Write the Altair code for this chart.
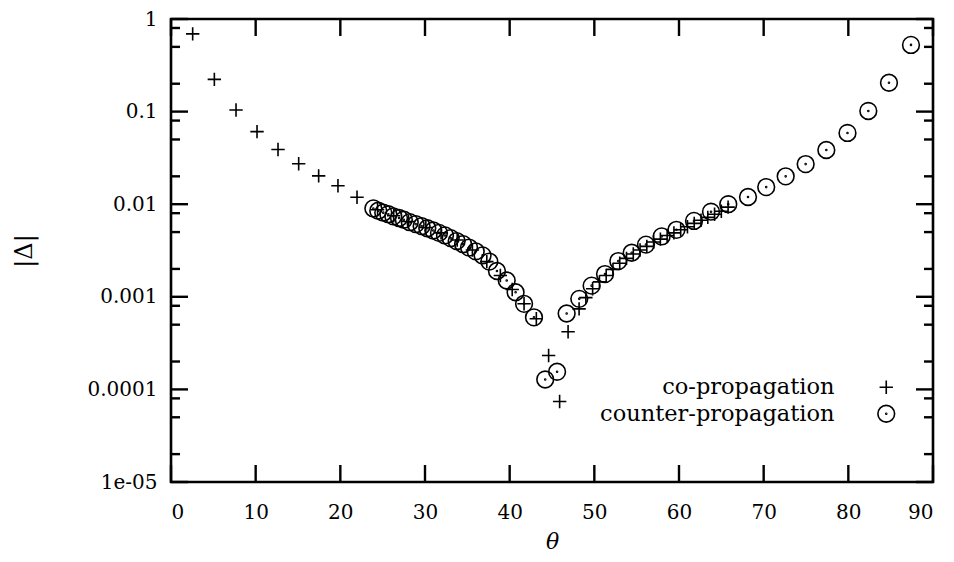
import altair as alt
import pandas as pd

# ---- data ----
co_theta = [2.56, 5.12, 7.68, 10.16, 12.64, 15.08, 17.44, 19.72, 21.97,
            24.4, 26.3, 28.05, 30.1, 31.9, 33.8, 35.6, 37.3, 38.9, 40.3, 41.7, 43.15,
            44.6, 45.9, 46.9, 48.2,
            49.0, 49.8, 50.6, 51.4, 52.2, 53.0, 53.8, 54.6, 55.4, 56.2, 57.0, 57.8,
            58.6, 59.4, 60.2, 61.0, 61.8, 62.6, 63.4, 64.2, 65.0, 65.8]
co_delta = [0.69, 0.223, 0.104, 0.0608, 0.039, 0.0273, 0.0202, 0.0158, 0.0119,
            0.0087, 0.0075, 0.0065, 0.0056, 0.0049, 0.0041, 0.0032, 0.0024, 0.0017, 0.0012, 0.00084, 0.00058,
            0.000232, 0.000074, 0.00042, 0.00074,
            0.00098, 0.00122, 0.00145, 0.0017, 0.00198, 0.0023, 0.0026, 0.0029, 0.0032, 0.0035, 0.0039, 0.0042,
            0.0046, 0.0049, 0.0053, 0.0057, 0.0062, 0.0067, 0.0072, 0.0078, 0.0084, 0.0093]

counter_theta = [23.9, 24.48, 25.07, 25.67, 26.26, 26.93, 27.5, 28.2, 28.9, 29.6, 30.27,
                 30.98, 31.65, 32.36, 33.03, 33.74, 34.5, 35.2, 35.99, 36.8, 37.6, 38.5,
                 39.65, 40.7, 41.7, 42.87,
                 44.2, 45.6, 46.73, 48.22, 49.68, 51.26, 52.83, 54.41, 56.1, 57.95, 59.7,
                 61.77, 63.78, 65.82, 68.15, 70.3, 72.6, 74.96, 77.4, 79.9, 82.36, 84.8, 87.4]
counter_delta = [0.0090, 0.0085, 0.0081, 0.0078, 0.0074, 0.0071, 0.0068, 0.0064, 0.0061, 0.0058, 0.0055,
                 0.0052, 0.0049, 0.0046, 0.0043, 0.0040, 0.0037, 0.0034, 0.0031, 0.0028, 0.0024, 0.0019,
                 0.0015, 0.00112, 0.00084, 0.0006,
                 0.000128, 0.000155, 0.00066, 0.00095, 0.00132, 0.00176, 0.00243, 0.00299, 0.00366, 0.00449, 0.00529,
                 0.0066, 0.0083, 0.0100, 0.01196, 0.0153, 0.020, 0.0271, 0.0385, 0.0588, 0.1016, 0.205, 0.525]

series_names = ["co-propagation", "counter-propagation"]
x_ticks = [0, 10, 20, 30, 40, 50, 60, 70, 80, 90]
y_major = [1, 0.1, 0.01, 0.001, 0.0001, 0.00001]
y_labels = ["1e-05", "0.0001", "0.001", "0.01", "0.1", "1"]
y_minor = [0.8, 0.5, 0.2, 0.08, 0.05, 0.02, 0.008, 0.005, 0.002,
           0.0008, 0.0005, 0.0002, 0.00008, 0.00005, 0.00002]

# ---- build tables ----
df = pd.concat([
    pd.DataFrame({"theta": co_theta, "delta": co_delta, "series": series_names[0]}),
    pd.DataFrame({"theta": counter_theta, "delta": counter_delta, "series": series_names[1]}),
])
xt = pd.DataFrame({"v": x_ticks})
ymaj = pd.DataFrame({"v": y_major})
ymin = pd.DataFrame({"v": y_minor})

W, H = 762, 463
FONT = "DejaVu Serif"
MAJ, MIN = 17, 9
TW = 2.4

PLUS = "M-0.8,0L0.8,0M0,-0.8L0,0.8"
CIRC = ("M1,0A1,1,0,1,1,-1,0A1,1,0,1,1,1,0Z"
        "M0.06,0A0.06,0.06,0,1,1,-0.06,0A0.06,0.06,0,1,1,0.06,0Z")

xscale = alt.Scale(domain=[0, 90], nice=False, zero=False)
yscale = alt.Scale(type="log", domain=[0.00001, 1], nice=False)

label_expr = "[" + ",".join("'%s'" % s for s in y_labels) + "][round(log(datum.value)/LN10)+5]"

xaxis = alt.Axis(values=x_ticks, ticks=False, tickSize=0, domain=False, grid=False,
                 labelFont=FONT, labelFontSize=20, labelColor="black", labelPadding=20,
                 title="θ", titleFont=FONT, titleFontSize=22, titleFontStyle="italic",
                 titleFontWeight="normal", titleColor="black", titleY=66,
                 titleBaseline="alphabetic")
yaxis = alt.Axis(values=y_major, ticks=False, tickSize=0, domain=False, grid=False,
                 labelFont=FONT, labelFontSize=20, labelColor="black", labelPadding=14,
                 labelExpr=label_expr,
                 title="|Δ|", titleFont=FONT, titleFontSize=24, titleFontWeight="normal",
                 titleColor="black", titleX=-147, titleY=H / 2, titleAngle=-90,
                 titleAlign="center", titleBaseline="middle")

points = alt.Chart(df).mark_point(filled=False, color="black", strokeWidth=1.6,
                                  size=280, opacity=1).encode(
    x=alt.X("theta:Q", scale=xscale, axis=xaxis, title="θ"),
    y=alt.Y("delta:Q", scale=yscale, axis=yaxis, title="|Δ|"),
    shape=alt.Shape("series:N",
                    scale=alt.Scale(domain=series_names, range=[PLUS, CIRC]),
                    legend=alt.Legend(orient="none", legendX=704, legendY=357, title=None,
                                      labelFont=FONT, labelFontSize=22.5, labelColor="black",
                                      labelAlign="right", labelOffset={"expr": "-63"},
                                      labelLimit=500,
                                      symbolSize=280, symbolStrokeWidth=1.6,
                                      symbolStrokeColor="black", symbolFillColor="transparent",
                                      rowPadding=2.5, padding=0)),
)

def yticks(data, x0, x1):
    return alt.Chart(data).mark_rule(color="black", strokeWidth=TW).encode(
        y=alt.Y("v:Q", scale=yscale, axis=yaxis, title="|Δ|"),
        x=alt.value(x0), x2=alt.value(x1))

def xticks(data, y0, y1):
    return alt.Chart(data).mark_rule(color="black", strokeWidth=TW).encode(
        x=alt.X("v:Q", scale=xscale, axis=xaxis, title="θ"),
        y=alt.value(y0), y2=alt.value(y1))

chart = alt.layer(
    points,
    yticks(ymaj, 0, MAJ), yticks(ymin, 0, MIN),
    yticks(ymaj, W - MAJ, W), yticks(ymin, W - MIN, W),
    xticks(xt, H, H - MAJ), xticks(xt, 0, MAJ),
).properties(
    width=W, height=H,
    autosize=alt.AutoSizeParams(type="none"),
    padding={"left": 163, "top": 11, "right": 13, "bottom": 72},
).configure(background="white").configure_view(stroke="black", strokeWidth=2.6)

chart.save("out.html", embed_options={"renderer": "svg", "actions": False})
